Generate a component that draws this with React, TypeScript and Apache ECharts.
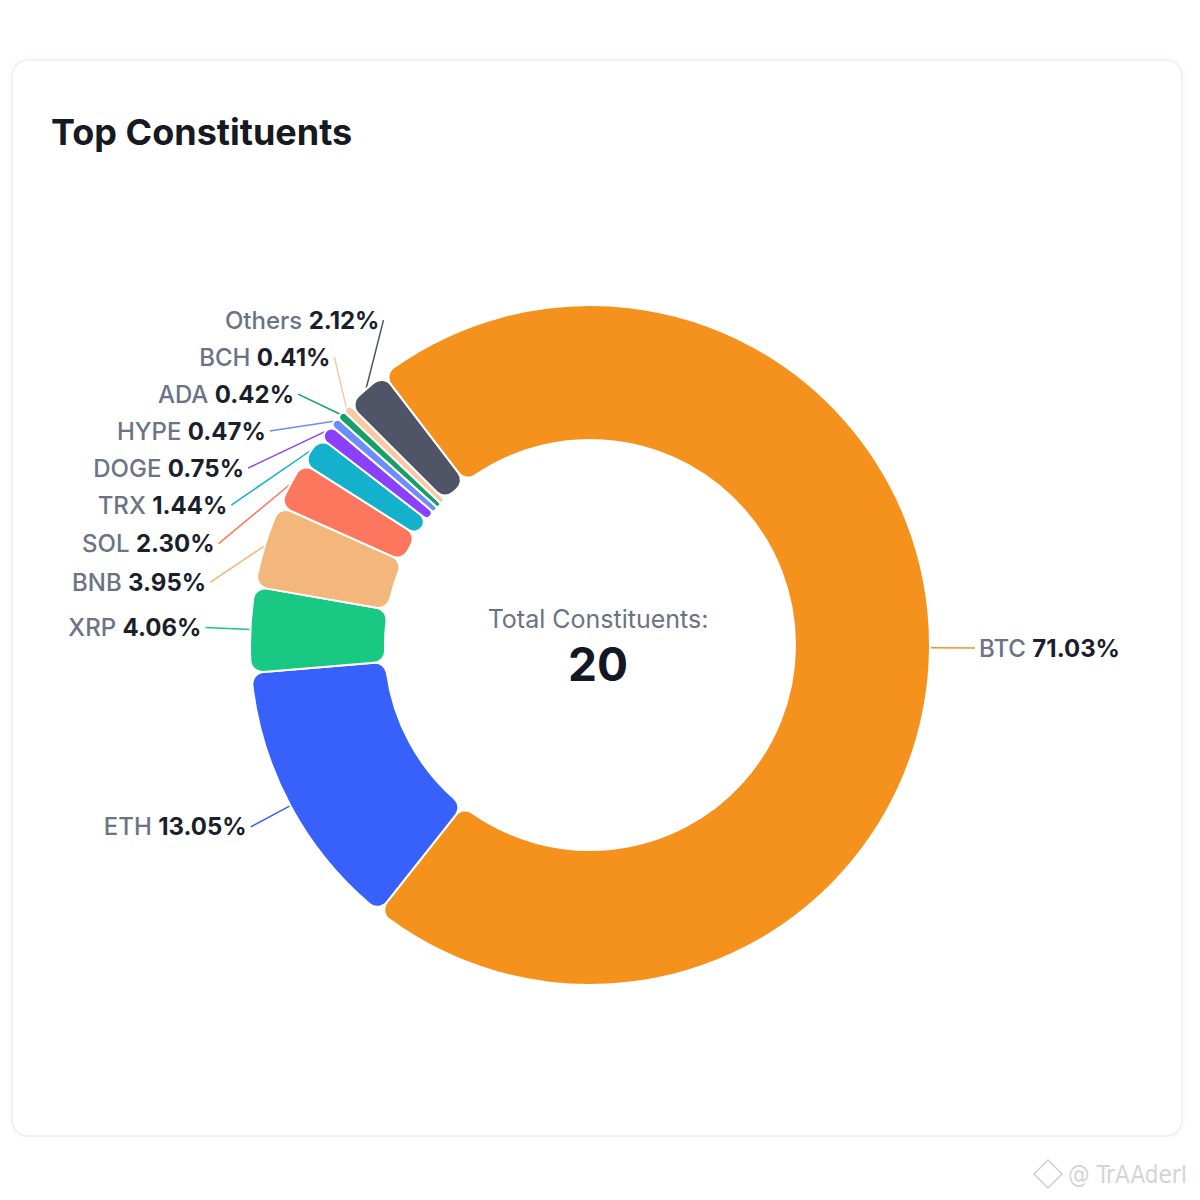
import * as echarts from "echarts";
import { useEffect, useRef } from "react";

const names = ["BTC", "ETH", "XRP", "BNB", "SOL", "TRX", "DOGE", "HYPE", "ADA", "BCH", "Others"];
const weights = [71.03, 13.05, 4.06, 3.95, 2.3, 1.44, 0.75, 0.47, 0.42, 0.41, 2.12];
const colors = [
  "#f5921e",
  "#3861fb",
  "#18c883",
  "#f4b77b",
  "#fd775e",
  "#13b1cc",
  "#8a40fd",
  "#6d8cfd",
  "#14a066",
  "#f8c9a2",
  "#4f5467"
];
const totalCount = 20;

const CX = 590;
const CY = 645;
const R_IN = 205;
const R_OUT = 340;
const START = 127.4;
const LEN = 45;
const LABEL_H = 37;
const GAP = 4;

interface Placed {
  dir: number;
  sx: number;
  sy: number;
  x: number;
  y: number;
}

// outside labels stacked the old way: push down, then pull back up by half
function adjustSide(list: Placed[], dir: number) {
  list.sort((a, b) => a.y - b.y);
  const len = list.length;
  const shiftUp = (end: number, delta: number) => {
    for (let j = end; j >= 0; j--) {
      if (list[j].y - delta < 0) break;
      list[j].y -= delta;
      if (j > 0 && list[j].y > list[j - 1].y + LABEL_H) break;
    }
  };
  const shiftDown = (start: number, end: number, delta: number) => {
    for (let j = start; j < end; j++) {
      if (list[j].y + delta > 1200) break;
      list[j].y += delta;
      if (j > start && j + 1 < end && list[j + 1].y > list[j].y + LABEL_H) {
        shiftUp(j, delta / 2);
        return;
      }
    }
    shiftUp(end - 1, delta / 2);
  };
  let lastY = 0;
  for (let i = 0; i < len; i++) {
    const delta = list[i].y - lastY;
    if (delta < 0) shiftDown(i, len, -delta);
    lastY = list[i].y + LABEL_H;
  }
  const rad = R_OUT + LEN;
  const up = list.filter((d) => d.y < CY);
  const down = list.filter((d) => d.y >= CY);
  let last = 0;
  for (const d of up) {
    let dx = Math.sqrt(Math.max(rad * rad - (d.y - CY) ** 2, 0));
    if (dx <= last) dx = last + 10;
    d.x = CX + dx * dir;
    last = dx;
  }
  last = Number.MAX_VALUE;
  for (const d of down) {
    let dx = Math.sqrt(Math.max(rad * rad - (d.y - CY) ** 2, 0));
    if (dx >= last) dx = last - 10;
    d.x = CX + dx * dir;
    last = dx;
  }
}

function placeLabels(): Placed[] {
  const total = weights.reduce((s, v) => s + v, 0);
  let angle = START;
  const items = weights.map((w) => {
    const span = (w / total) * 360;
    const mid = ((angle - span / 2) * Math.PI) / 180;
    angle -= span;
    const cos = Math.cos(mid);
    const sin = Math.sin(mid);
    return {
      dir: cos < 0 ? -1 : 1,
      sx: CX + R_OUT * cos,
      sy: CY - R_OUT * sin,
      x: CX + (R_OUT + LEN) * cos,
      y: CY - (R_OUT + LEN) * sin
    };
  });
  adjustSide(items.filter((d) => d.dir < 0), -1);
  adjustSide(items.filter((d) => d.dir > 0), 1);
  return items;
}

export default function App() {
  const ref = useRef<HTMLDivElement | null>(null);

  useEffect(() => {
    if (!ref.current) {
      return;
    }
    const placed = placeLabels();
    const chart = echarts.init(ref.current, undefined, { renderer: "svg" });
    chart.setOption({
      animation: false,
      textStyle: { fontFamily: "Inter" },
      title: {
        text: "Top Constituents",
        left: 46,
        top: 109,
        textStyle: { fontSize: 36, fontWeight: 700, color: "#161a23", fontFamily: "Inter" }
      },
      graphic: [
        {
          type: "rect",
          z: -10,
          silent: true,
          shape: { x: 12, y: 60, width: 1170, height: 1076, r: 16 },
          style: {
            fill: "#fff",
            stroke: "#eceef2",
            lineWidth: 1.5,
            shadowColor: "rgba(0,0,0,0.04)",
            shadowBlur: 6
          }
        },
        {
          type: "text",
          x: 598,
          y: 619,
          style: {
            text: "Total Constituents:",
            fill: "#6b7283",
            fontSize: 25,
            fontFamily: "Inter",
            align: "center",
            verticalAlign: "middle"
          }
        },
        {
          type: "text",
          x: 598,
          y: 664,
          style: {
            text: String(totalCount),
            fill: "#141826",
            fontSize: 46,
            fontWeight: 700,
            fontFamily: "Inter",
            align: "center",
            verticalAlign: "middle"
          }
        },
        {
          type: "polygon",
          shape: { points: [[1048, 1160], [1062, 1174], [1048, 1188], [1034, 1174]] },
          style: { fill: "none", stroke: "#cfcfcf", lineWidth: 1.5 }
        },
        {
          type: "text",
          x: 1068,
          y: 1175,
          style: {
            text: "@ TrAAderI",
            fill: "#d4d4d4",
            fontSize: 24,
            fontFamily: "Liberation Sans Narrow, DejaVu Sans Condensed, sans-serif",
            verticalAlign: "middle"
          }
        }
      ],
      series: [
        {
          type: "pie",
          center: [CX, CY],
          radius: [R_IN, R_OUT],
          startAngle: START,
          clockwise: true,
          avoidLabelOverlap: false,
          itemStyle: { borderRadius: 12, borderColor: "#fff", borderWidth: 2 },
          label: {
            show: true,
            position: "outside",
            formatter: (p: any) => `{n|${p.name} }{v|${p.value.toFixed(2)}%}`,
            rich: {
              n: { fontSize: 24, color: "#6b7385", fontWeight: 500, fontFamily: "Inter" },
              v: { fontSize: 24, color: "#1b1f2c", fontWeight: 700, fontFamily: "Inter" }
            }
          },
          labelLine: { show: true, length: LEN, length2: 0, lineStyle: { width: 1.5 } },
          labelLayout: (params: any) => {
            const p = placed[params.dataIndex];
            return {
              x: p.x + GAP * p.dir,
              y: p.y,
              align: p.dir < 0 ? "right" : "left",
              verticalAlign: "middle",
              labelLinePoints: [
                [p.sx, p.sy],
                [p.x, p.y],
                [p.x, p.y]
              ]
            };
          },
          data: names.map((name, i) => ({
            name,
            value: weights[i],
            itemStyle: { color: colors[i] },
            labelLine: { lineStyle: { color: colors[i] } }
          }))
        }
      ]
    });
    return () => chart.dispose();
  }, []);

  return (
    <div
      ref={ref}
      style={{ position: "fixed", left: 0, top: 0, width: 1200, height: 1200, background: "#fff" }}
    />
  );
}
